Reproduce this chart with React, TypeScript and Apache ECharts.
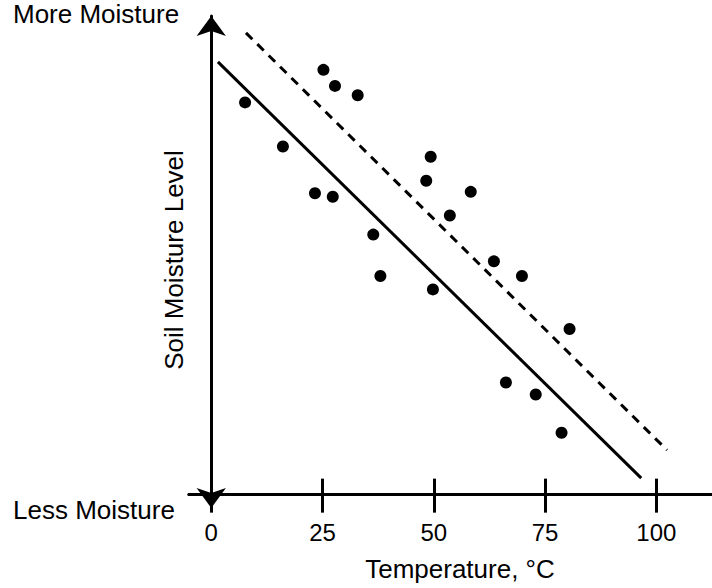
import { useEffect, useRef } from 'react';
import * as echarts from 'echarts';

// Temperature tick labels (°C)
const tempTicks = [0, 25, 50, 75, 100];

// Observed points: temperature (°C) and soil moisture level (relative units)
const pointTemps = [
  7.6, 16.1, 23.3, 27.3, 25.2, 27.8, 32.9, 36.4, 38.0, 49.3,
  48.3, 58.3, 53.6, 49.8, 63.5, 69.8, 80.5, 66.2, 72.9, 78.7,
];
const pointMoisture = [
  88.1, 78.2, 67.7, 66.9, 95.4, 91.8, 89.7, 58.4, 49.1, 75.9,
  70.5, 68.0, 62.7, 46.1, 52.4, 49.1, 37.2, 25.2, 22.5, 13.9,
];

// Solid trend line endpoints
const solidTemps = [1.5, 96.6];
const solidMoisture = [97.2, 3.7];

// Dashed trend line endpoints
const dashedTemps = [7.8, 102.4];
const dashedMoisture = [103.7, 10.0];

const topLabel = 'More Moisture';
const bottomLabel = 'Less Moisture';
const yName = 'Soil Moisture Level';
const xName = 'Temperature, °C';

export default function App() {
  const ref = useRef<HTMLDivElement>(null);

  useEffect(() => {
    const chart = echarts.init(ref.current as HTMLDivElement, null, { renderer: 'svg' });
    const font = '"Liberation Sans", Arial, Helvetica, sans-serif';
    const wordSize = 26;

    const baseX = {
      type: 'value',
      min: -5,
      max: 112.5,
      axisLine: { show: true, onZero: true, onZeroAxisIndex: 0, lineStyle: { color: '#000', width: 3 } },
      splitLine: { show: false },
    };

    chart.setOption({
      animation: false,
      backgroundColor: '#fff',
      grid: { left: 189, right: 0, top: 16, bottom: 80, containLabel: false },
      xAxis: [
        {
          ...baseX,
          axisTick: { show: true, inside: false, length: 18, customValues: tempTicks, lineStyle: { color: '#000', width: 3 } },
          axisLabel: {
            show: true,
            customValues: tempTicks,
            margin: 12,
            fontSize: 24,
            fontFamily: font,
            color: '#000',
          },
        },
        {
          ...baseX,
          position: 'bottom',
          axisTick: { show: true, inside: true, length: 16, customValues: tempTicks, lineStyle: { color: '#000', width: 3 } },
          axisLabel: { show: false },
        },
      ],
      yAxis: {
        type: 'value',
        min: -3,
        max: 107.5,
        axisLine: {
          show: true,
          onZero: true,
          onZeroAxisIndex: 0,
          symbol: ['arrow', 'arrow'],
          symbolSize: [22, 20],
          lineStyle: { color: '#000', width: 3 },
        },
        axisTick: { show: false },
        axisLabel: { show: false },
        splitLine: { show: false },
      },
      graphic: [
        {
          type: 'text',
          x: 13,
          y: 14,
          style: { text: topLabel, fontSize: wordSize, fontFamily: font, fill: '#000', textAlign: 'left', textVerticalAlign: 'middle' },
        },
        {
          type: 'text',
          x: 13,
          y: 510,
          style: { text: bottomLabel, fontSize: wordSize, fontFamily: font, fill: '#000', textAlign: 'left', textVerticalAlign: 'middle' },
        },
        {
          type: 'text',
          x: 174,
          y: 260,
          rotation: Math.PI / 2,
          style: { text: yName, fontSize: wordSize, fontFamily: font, fill: '#000', textAlign: 'center', textVerticalAlign: 'middle' },
        },
        {
          type: 'text',
          x: 460,
          y: 569,
          style: { text: xName, fontSize: wordSize, fontFamily: font, fill: '#000', textAlign: 'center', textVerticalAlign: 'middle' },
        },
      ],
      series: [
        {
          type: 'line',
          xAxisIndex: 0,
          data: solidTemps.map((t, i) => [t, solidMoisture[i]]),
          showSymbol: false,
          symbol: 'none',
          lineStyle: { color: '#000', width: 3, cap: 'butt' },
          silent: true,
        },
        {
          type: 'line',
          xAxisIndex: 0,
          data: dashedTemps.map((t, i) => [t, dashedMoisture[i]]),
          showSymbol: false,
          symbol: 'none',
          lineStyle: { color: '#000', width: 3, type: [9, 7], cap: 'butt' },
          silent: true,
        },
        {
          type: 'scatter',
          xAxisIndex: 0,
          data: pointTemps.map((t, i) => [t, pointMoisture[i]]),
          symbol: 'circle',
          symbolSize: 12,
          itemStyle: { color: '#000', opacity: 1 },
        },
      ],
    });

    return () => chart.dispose();
  }, []);

  return (
    <div
      ref={ref}
      style={{ position: 'fixed', left: 0, top: 0, width: 712, height: 588, background: '#fff' }}
    />
  );
}
